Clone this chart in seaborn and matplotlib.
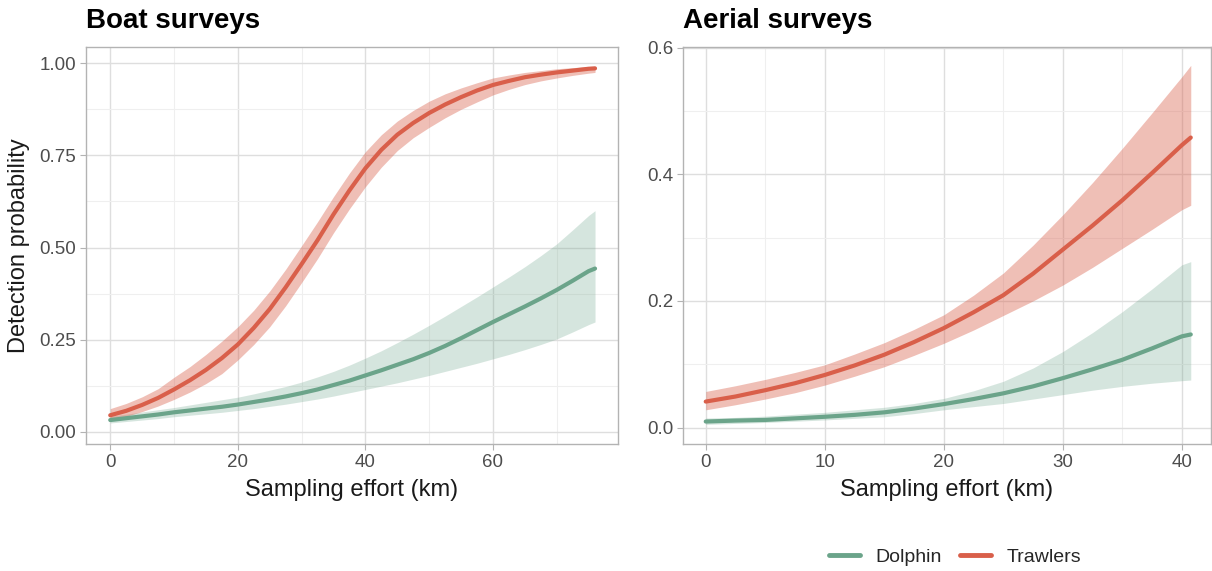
import numpy as np
import pandas as pd
import matplotlib
matplotlib.use("Agg")
import matplotlib.pyplot as plt
import seaborn as sns
from matplotlib.lines import Line2D

# ---- Data ----
boat_x = [0, 2.5, 5, 7.5, 10, 12.5, 15, 17.5, 20, 22.5, 25, 27.5, 30, 32.5, 35, 37.5,
          40, 42.5, 45, 47.5, 50, 52.5, 55, 57.5, 60, 62.5, 65, 67.5, 70, 72.5, 75, 76]
boat_trawl_mean = [0.045, 0.057, 0.073, 0.092, 0.115, 0.140, 0.168, 0.200, 0.237, 0.282, 0.333,
                   0.392, 0.455, 0.520, 0.590, 0.655, 0.715, 0.765, 0.806, 0.838, 0.865, 0.888,
                   0.908, 0.926, 0.941, 0.952, 0.962, 0.969, 0.975, 0.980, 0.985, 0.986]
boat_trawl_lo = [0.032, 0.042, 0.055, 0.070, 0.088, 0.108, 0.131, 0.158, 0.195, 0.237, 0.285,
                 0.342, 0.405, 0.470, 0.540, 0.605, 0.665, 0.718, 0.763, 0.798, 0.826, 0.852,
                 0.875, 0.895, 0.914, 0.929, 0.942, 0.952, 0.960, 0.967, 0.973, 0.975]
boat_trawl_hi = [0.063, 0.077, 0.095, 0.117, 0.148, 0.177, 0.210, 0.246, 0.285, 0.330, 0.382,
                 0.441, 0.505, 0.570, 0.638, 0.702, 0.760, 0.806, 0.843, 0.872, 0.897, 0.917,
                 0.933, 0.947, 0.960, 0.968, 0.975, 0.980, 0.985, 0.988, 0.991, 0.992]
boat_dolph_mean = [0.032, 0.037, 0.042, 0.047, 0.053, 0.058, 0.063, 0.068, 0.074, 0.081, 0.088,
                   0.096, 0.105, 0.115, 0.127, 0.139, 0.153, 0.167, 0.182, 0.197, 0.214, 0.233,
                   0.254, 0.276, 0.298, 0.319, 0.340, 0.362, 0.385, 0.410, 0.436, 0.443]
boat_dolph_lo = [0.024, 0.028, 0.032, 0.036, 0.041, 0.045, 0.049, 0.053, 0.058, 0.063, 0.069,
                 0.075, 0.082, 0.089, 0.097, 0.106, 0.115, 0.124, 0.133, 0.143, 0.153, 0.164,
                 0.175, 0.186, 0.198, 0.210, 0.223, 0.237, 0.252, 0.271, 0.291, 0.298]
boat_dolph_hi = [0.042, 0.048, 0.054, 0.060, 0.066, 0.073, 0.080, 0.087, 0.094, 0.103, 0.113,
                 0.123, 0.135, 0.149, 0.164, 0.181, 0.200, 0.220, 0.242, 0.265, 0.289, 0.314,
                 0.340, 0.366, 0.393, 0.420, 0.448, 0.478, 0.510, 0.548, 0.587, 0.600]

aer_x = [0, 2.5, 5, 7.5, 10, 12.5, 15, 17.5, 20, 22.5, 25, 27.5, 30, 32.5, 35, 37.5, 40, 40.75]
aer_trawl_mean = [0.041, 0.049, 0.059, 0.070, 0.083, 0.098, 0.115, 0.135, 0.157, 0.182, 0.209,
                  0.243, 0.281, 0.319, 0.359, 0.402, 0.446, 0.458]
aer_trawl_lo = [0.028, 0.036, 0.045, 0.055, 0.067, 0.081, 0.096, 0.114, 0.133, 0.154, 0.177,
                0.200, 0.225, 0.253, 0.283, 0.313, 0.344, 0.351]
aer_trawl_hi = [0.057, 0.066, 0.076, 0.087, 0.099, 0.116, 0.134, 0.155, 0.178, 0.209, 0.244,
                0.288, 0.336, 0.387, 0.441, 0.497, 0.554, 0.572]
aer_dolph_mean = [0.0095, 0.011, 0.012, 0.0145, 0.017, 0.020, 0.024, 0.030, 0.037, 0.045, 0.054,
                  0.065, 0.078, 0.092, 0.107, 0.125, 0.144, 0.147]
aer_dolph_lo = [0.005, 0.0065, 0.008, 0.010, 0.012, 0.0145, 0.017, 0.022, 0.028, 0.033, 0.038,
                0.045, 0.052, 0.059, 0.065, 0.070, 0.074, 0.075]
aer_dolph_hi = [0.015, 0.016, 0.018, 0.021, 0.024, 0.028, 0.032, 0.038, 0.046, 0.058, 0.073,
                0.094, 0.120, 0.150, 0.183, 0.219, 0.257, 0.262]

species = ["Dolphin", "Trawlers"]
colors = {"Dolphin": "#6BA48A", "Trawlers": "#D95F4A"}
band_alpha = {"Dolphin": 0.28, "Trawlers": 0.4}

sns.set_theme(style="white")
plt.rcParams["font.family"] = ["Liberation Sans", "DejaVu Sans"]

W, H = 1212, 571
fig = plt.figure(figsize=(W / 100, H / 100), dpi=100)
ax1 = fig.add_axes([86 / W, 1 - 444 / H, (618 - 86) / W, 397 / H])
ax2 = fig.add_axes([683 / W, 1 - 444 / H, (1211 - 683) / W, 397 / H])


def build(x, dm, dl, dh, tm, tl, th):
    rows = []
    for sp, m, lo, hi in (("Dolphin", dm, dl, dh), ("Trawlers", tm, tl, th)):
        for xi, mi, li, hi_ in zip(x, m, lo, hi):
            rows.append({"x": xi, "p": mi, "lo": li, "hi": hi_, "species": sp})
    return pd.DataFrame(rows)


df_boat = build(boat_x, boat_dolph_mean, boat_dolph_lo, boat_dolph_hi,
                boat_trawl_mean, boat_trawl_lo, boat_trawl_hi)
df_aer = build(aer_x, aer_dolph_mean, aer_dolph_lo, aer_dolph_hi,
               aer_trawl_mean, aer_trawl_lo, aer_trawl_hi)


def style_axes(ax, xlim, ylim, xmaj, xmin, ymaj, ymin, yfmt):
    ax.set_xlim(*xlim)
    ax.set_ylim(*ylim)
    ax.set_xticks(xmaj)
    ax.set_xticks(xmin, minor=True)
    ax.set_yticks(ymaj)
    ax.set_yticks(ymin, minor=True)
    ax.set_yticklabels([yfmt.format(v) for v in ymaj])
    ax.set_xticklabels([str(v) for v in xmaj])
    ax.grid(which="major", color="#DEDEDE", linewidth=1.0)
    ax.grid(which="minor", color="#EFEFEF", linewidth=0.8)
    ax.set_axisbelow(True)
    for s in ax.spines.values():
        s.set_color("#B3B3B3")
        s.set_linewidth(1.0)
    ax.tick_params(which="major", direction="out", length=4, width=0.8,
                   color="#B3B3B3", labelsize=13.5, labelcolor="#4D4D4D",
                   bottom=True, left=True, pad=3)
    ax.tick_params(which="minor", length=0, bottom=False, left=False)
    ax.set_xlabel("Sampling effort (km)", fontsize=17, color="#1A1A1A")
    ax.xaxis.label.set_va("center")
    ax.xaxis.set_label_coords(0.5, (444 - 490) / 397)


for ax, df in ((ax1, df_boat), (ax2, df_aer)):
    for sp in species:
        d = df[df["species"] == sp]
        ax.fill_between(d["x"], d["lo"], d["hi"], color=colors[sp],
                        alpha=band_alpha[sp], linewidth=0)
    sns.lineplot(data=df, x="x", y="p", hue="species", palette=colors,
                 hue_order=species, linewidth=3.0, ax=ax, legend=False,
                 estimator=None, sort=True)

style_axes(ax1, (-3.8, 79.6), (-0.033, 1.044), [0, 20, 40, 60], [10, 30, 50, 70],
           [0.0, 0.25, 0.5, 0.75, 1.0], [0.125, 0.375, 0.625, 0.875], "{:.2f}")
style_axes(ax2, (-1.91, 42.45), (-0.026, 0.601), [0, 10, 20, 30, 40], [5, 15, 25, 35],
           [0.0, 0.2, 0.4, 0.6], [0.1, 0.3, 0.5], "{:.1f}")

ax1.set_ylabel("Detection probability", fontsize=17, color="#1A1A1A")
ax1.yaxis.label.set_va("center")
ax1.yaxis.set_label_coords((19 - 86) / 532, 0.5)
ax2.set_ylabel("")

ax1.set_title("Boat surveys", loc="left", fontsize=20, fontweight="bold",
              color="black", pad=14)
ax2.set_title("Aerial surveys", loc="left", fontsize=20, fontweight="bold",
              color="black", pad=14)

handles = [Line2D([0], [0], color=colors[s], lw=3.5) for s in species]
fig.legend(handles, species, loc="center", bbox_to_anchor=(955 / W, 1 - 557 / H),
           ncol=2, frameon=False, fontsize=14, handlelength=1.6,
           columnspacing=0.9, handletextpad=0.8)

fig.savefig("out.png", dpi=100)
